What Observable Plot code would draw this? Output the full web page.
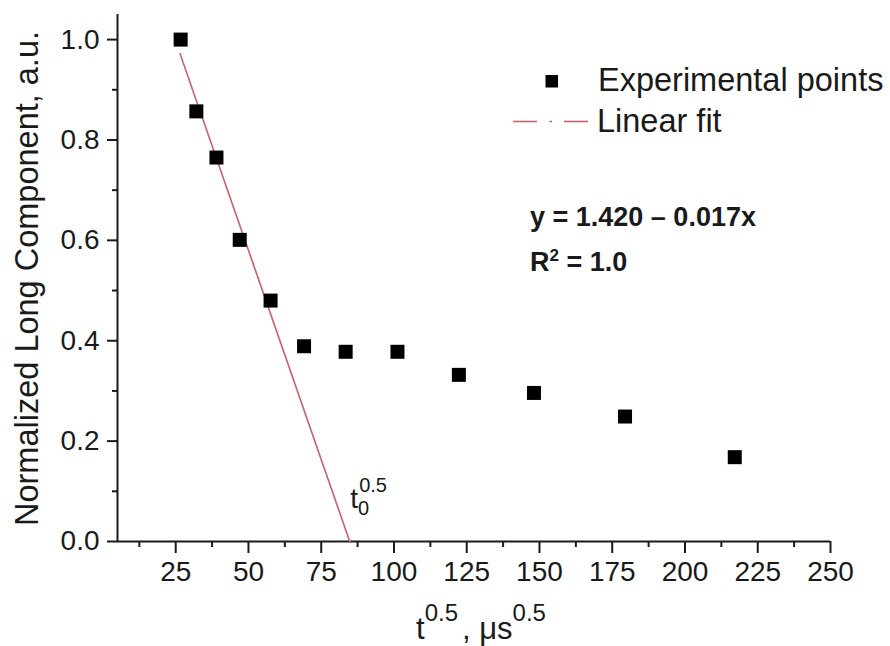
<!DOCTYPE html>
<html>
<head>
<meta charset="utf-8">
<script src="https://cdn.jsdelivr.net/npm/d3@7"></script>
<script src="https://cdn.jsdelivr.net/npm/@observablehq/plot@0.6"></script>
<style>
  html, body { margin: 0; padding: 0; background: #fff; }
  #chart { width: 890px; height: 646px; }
</style>
</head>
<body>
<div id="chart"></div>
<script>
// Experimental points: x = t^0.5 (µs^0.5), y = normalized long component
const tSqrt    = [26.7, 32.1, 39.0, 47.0, 57.6, 69.1, 83.4, 101.2, 122.3, 148.1, 179.4, 217.1];
const longComp = [1.000, 0.857, 0.765, 0.601, 0.480, 0.389, 0.378, 0.378, 0.332, 0.296, 0.249, 0.168];

// Linear fit segment endpoints
const fitX = [26.5, 84.8];
const fitY = [0.972, 0.0];

// Axis ticks
const xMajor = [25, 50, 75, 100, 125, 150, 175, 200, 225, 250];
const xMinor = [12.5, 37.5, 62.5, 87.5, 112.5, 137.5, 162.5, 187.5, 212.5, 237.5];
const yMajor = [0, 0.2, 0.4, 0.6, 0.8, 1.0];
const yMinor = [0.1, 0.3, 0.5, 0.7, 0.9];
const xDomain = [5, 250];
const yDomain = [0, 1.05];

const yLabel = "Normalized Long Component, a.u.";
const legendPoints = "Experimental points";
const legendFit = "Linear fit";
const eqText = "y = 1.420 \u2013 0.017x";
const r2Main = "R", r2Sup = "2", r2Rest = " = 1.0";

const points = tSqrt.map((x, i) => ({x, y: longComp[i]}));
const fit = fitX.map((x, i) => ({x, y: fitY[i]}));

const FONT = "'Liberation Sans', Arial, Helvetica, sans-serif";
const INK = "#1a1a1a";
const FITC = "#c9626a";

const plot = Plot.plot({
  width: 890,
  height: 646,
  marginTop: 14,
  marginBottom: 105,
  marginLeft: 117,
  marginRight: 60,
  style: {fontFamily: FONT, fontSize: "28px", color: INK, background: "#fff", overflow: "visible"},
  x: {domain: xDomain},
  y: {domain: yDomain},
  marks: [
    Plot.axisX({ticks: xMinor, tickSize: 6, text: null, label: null, strokeWidth: 2}),
    Plot.axisX({ticks: xMajor, tickSize: 12, tickPadding: 8, label: null, strokeWidth: 2, fontSize: 28}),
    Plot.axisY({ticks: yMinor, tickSize: 5, text: null, label: null, strokeWidth: 2}),
    Plot.axisY({ticks: yMajor, tickSize: 10, tickPadding: 8, tickFormat: d3.format(".1f"), label: null, strokeWidth: 2, fontSize: 28}),
    Plot.ruleY([yDomain[0]], {stroke: INK, strokeWidth: 2}),
    Plot.ruleX([xDomain[0]], {stroke: INK, strokeWidth: 2}),
    Plot.line(fit, {x: "x", y: "y", stroke: FITC, strokeWidth: 1.6}),
    Plot.dot(points, {x: "x", y: "y", symbol: "square", r: 7.9, fill: "#000", stroke: "none"})
  ]
});
document.getElementById("chart").appendChild(plot);

const svg = d3.select(plot);
const sx = plot.scale("x"), sy = plot.scale("y");

// Y axis title
svg.append("text")
  .attr("transform", `translate(38, ${(sy.apply(yDomain[0]) + sy.apply(yDomain[1])) / 2 + 1}) rotate(-90)`)
  .attr("text-anchor", "middle")
  .attr("font-size", 32.5)
  .attr("fill", INK)
  .text(yLabel);

// X axis title: t^0.5, µs^0.5
const xt = svg.append("text")
  .attr("x", 416).attr("y", 639)
  .attr("text-anchor", "start")
  .attr("font-size", 31)
  .attr("fill", INK);
xt.append("tspan").text("t");
xt.append("tspan").attr("font-size", 24).attr("dy", -18).text("0.5");
xt.append("tspan").attr("dy", 18).attr("dx", 4).text(", \u03bcs");
xt.append("tspan").attr("font-size", 24).attr("dy", -18).text("0.5");

// t0^0.5 annotation near intercept
const ax = sx.apply(fitX[1]) + 1, ay = sy.apply(fitY[1]) - 33;
const ann = svg.append("text").attr("x", ax).attr("y", ay).attr("text-anchor", "start").attr("font-size", 28).attr("fill", INK);
ann.append("tspan").text("t");
ann.append("tspan").attr("font-size", 20).attr("dy", 7).text("0");
ann.append("tspan").attr("font-size", 20).attr("dx", -10).attr("dy", -23).text("0.5");

// Legend
const lg = svg.append("g").attr("text-anchor", "start");
lg.append("rect").attr("x", 545.5).attr("y", 75).attr("width", 12.5).attr("height", 12.5).attr("fill", "#000");
lg.append("text").attr("x", 598).attr("y", 91).attr("font-size", 32.5).attr("fill", INK).text(legendPoints);
lg.append("line").attr("x1", 513).attr("x2", 537).attr("y1", 121.5).attr("y2", 121.5).attr("stroke", FITC).attr("stroke-width", 1.6);
lg.append("line").attr("x1", 549.5).attr("x2", 552).attr("y1", 121.5).attr("y2", 121.5).attr("stroke", FITC).attr("stroke-width", 1.6);
lg.append("line").attr("x1", 564).attr("x2", 588).attr("y1", 121.5).attr("y2", 121.5).attr("stroke", FITC).attr("stroke-width", 1.6);
lg.append("text").attr("x", 597).attr("y", 132).attr("font-size", 32.5).attr("fill", INK).text(legendFit);

// Fit equation
const eq = svg.append("g").attr("text-anchor", "start").attr("font-weight", "bold");
eq.append("text").attr("x", 530).attr("y", 226).attr("font-size", 27).attr("fill", INK).text(eqText);
const r2 = eq.append("text").attr("x", 530).attr("y", 271).attr("font-size", 27).attr("fill", INK);
r2.append("tspan").text(r2Main);
r2.append("tspan").attr("font-size", 17).attr("dy", -10).text(r2Sup);
r2.append("tspan").attr("dy", 10).text(r2Rest);
</script>
</body>
</html>
